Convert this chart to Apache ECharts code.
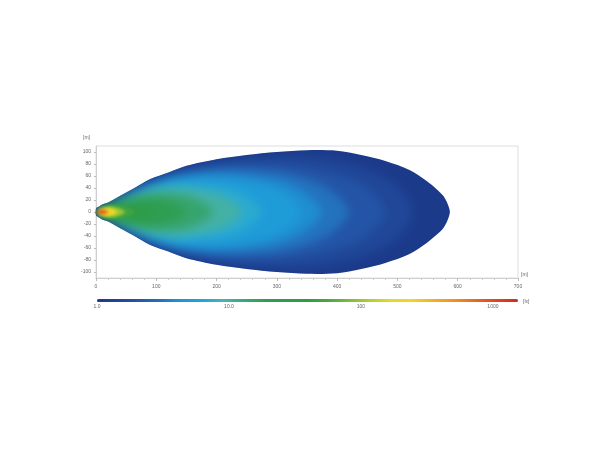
<!DOCTYPE html>
<html lang="en">
<head>
<meta charset="utf-8">
<script src="https://cdn.jsdelivr.net/npm/echarts@6/dist/echarts.min.js"></script>
<style>
  html, body { margin: 0; padding: 0; background: #fff; }
  .layer { position: absolute; left: 0; top: 0; width: 610px; height: 450px; }
  #field { filter: blur(5px); pointer-events: none; }
  #core { filter: blur(1.5px); pointer-events: none; }
</style>
</head>
<body>
<div id="chart" class="layer"></div>
<div id="field" class="layer"></div>
<div id="core" class="layer"></div>
<script>
// isolux lines: [distance m, half width m], upper half only (beam is symmetric)
const lux_levels = [1, 1.5, 2, 3, 4, 5, 7, 10, 15, 20, 30, 50, 100, 200, 500, 1000];
const iso_1    = [[0,6],[5,9],[10,12.5],[20,15.8],[40,27],[60,38],[90,55],[120,66],[150,77],[200,88],[250,95],[300,100],[350,103],[400,102],[440,95],[480,85],[520,70],[548,52],[565,38],[576,27],[583,14],[587,0]];
const iso_1_5  = [[0.5,6],[10,12.3],[20,15.4],[40,26.5],[60,37.5],[90,53],[120,64],[150,73],[200,84],[250,90],[300,93],[350,93],[400,86],[450,72],[490,52],[515,28],[525,0]];
const iso_2    = [[1,6],[10,12.1],[20,15.2],[40,26],[60,37],[90,51],[120,62],[150,70],[200,78],[250,81],[300,80],[350,74],[400,62],[450,40],[480,0]];
const iso_3    = [[1,5.8],[10,12],[20,15],[40,25.5],[60,36],[90,49],[120,59],[150,65],[200,71],[250,71],[300,67],[350,55],[390,36],[420,0]];
const iso_4    = [[1.5,5.6],[10,11.8],[20,14.9],[40,25],[60,34],[90,47],[120,56],[150,61],[200,64],[250,61],[300,52],[340,36],[375,0]];
const iso_5    = [[2,5.4],[10,11.6],[20,14.8],[40,24],[60,33],[90,45],[120,53],[150,57],[200,57],[250,51],[290,41],[320,26],[340,0]];
const iso_7    = [[2,5.2],[10,11.3],[20,14.6],[40,23],[60,31],[90,41],[120,47],[150,48],[200,43],[240,33],[275,0]];
const iso_10   = [[2.5,5],[10,11],[20,14.3],[40,21],[60,29],[90,37],[120,40],[150,39],[200,30],[225,18],[242,0]];
const iso_15   = [[3,4.8],[10,10.5],[20,13.8],[40,19],[60,25],[90,30],[120,31],[150,27],[175,17],[195,0]];
const iso_20   = [[3,4.5],[10,10],[20,13],[40,17],[60,21],[90,23],[120,19],[150,0]];
const iso_30   = [[3,4.2],[10,9],[20,12],[40,14],[60,14],[80,10],[105,0]];
const iso_50   = [[3,4],[10,8],[20,10.5],[35,11],[50,8],[65,0]];
const iso_100  = [[3,3.6],[10,7],[20,9],[30,8.5],[40,5.5],[48,0]];
const iso_200  = [[3,3],[10,5.5],[20,7],[28,5],[35,0]];
const iso_500  = [[3,2],[8,3.6],[15,3.6],[22,0]];
const iso_1000 = [[3,1.3],[8,2.6],[14,2.2],[18,0]];
const contours = [iso_1, iso_1_5, iso_2, iso_3, iso_4, iso_5, iso_7, iso_10, iso_15, iso_20, iso_30, iso_50, iso_100, iso_200, iso_500, iso_1000];

const yTicks = [-100, -80, -60, -40, -20, 0, 20, 40, 60, 80, 100];
const colorbarLabels = ['1.0', '10.0', '100', '1000'];
const colorbarMax = 3.19;   // log10 of top of scale
const palette = ['#1c3a8a', '#1f4596', '#2456a8', '#2372be', '#1e96d6', '#1ea6dc', '#48b4b4', '#3aa87c', '#2e9e55',
                 '#2e9c4a', '#2f9c44', '#4aa840', '#80bc3a', '#b4d030', '#e0dc28', '#f4d420', '#f4b020', '#f09020',
                 '#e86820', '#e04420', '#d42a20'];

const labelStyle = { fontSize: 5, color: '#666', fontFamily: 'Liberation Sans' };
const plotGrid = { left: 96, right: 92, top: 146, bottom: 172 };

function fieldSeries(from, to) {
  let idx = [];
  for (let i = from; i <= to; i++) idx.push(i);
  return {
    type: 'custom',
    xAxisIndex: 0, yAxisIndex: 0,
    data: idx.map(i => [i, Math.log10(lux_levels[i])]),
    renderItem: function (params, api) {
      let pts = contours[api.value(0)];
      let top = pts.map(p => api.coord([p[0], p[1]]));
      let bottom = pts.filter(p => p[1] > 0).reverse().map(p => api.coord([p[0], -p[1]]));
      return {
        type: 'polygon',
        shape: { points: top.concat(bottom), smooth: 0.3 },
        style: { fill: api.visual('color') }
      };
    }
  };
}

function colorMap(show) {
  return {
    type: 'continuous', show: show, seriesIndex: 0, dimension: 1,
    min: 0, max: colorbarMax,
    orient: 'horizontal', left: 97, top: 299, padding: 0,
    itemWidth: 3, itemHeight: 421,
    calculable: false, hoverLink: false,
    inRange: { color: palette }
  };
}

// overlay layers only carry the inner isolux areas, softened by css blur
function overlayOption(from, to) {
  return {
    animation: false,
    grid: plotGrid,
    xAxis: { type: 'value', min: 0, max: 700, show: false },
    yAxis: { type: 'value', min: -110, max: 110, show: false },
    visualMap: colorMap(false),
    series: [fieldSeries(from, to)]
  };
}

let chart = echarts.init(document.getElementById('chart'));
chart.setOption({
  animation: false,
  grid: [
    Object.assign({ show: true, borderColor: '#dedede', borderWidth: 1 }, plotGrid),
    { left: 97, width: 421, top: 299, height: 3 }
  ],
  xAxis: [
    {
      type: 'value', min: 0, max: 700, interval: 100,
      name: '[m]', nameLocation: 'end', nameGap: 3,
      nameTextStyle: Object.assign({ align: 'left', verticalAlign: 'bottom', padding: [0, 0, 1, 0] }, labelStyle),
      axisLine: { onZero: false, lineStyle: { color: '#cfcfcf' } },
      axisTick: { length: 3, lineStyle: { color: '#bbb' } },
      minorTick: { show: true, splitNumber: 5, length: 2, lineStyle: { color: '#ccc' } },
      splitLine: { show: false },
      axisLabel: Object.assign({ margin: 6 }, labelStyle)
    },
    {
      gridIndex: 1, type: 'value', min: 0, max: colorbarMax, interval: 1,
      name: '[lx]', nameLocation: 'end', nameGap: 5,
      nameTextStyle: Object.assign({ verticalAlign: 'middle', padding: [0, 0, 3, 0] }, labelStyle),
      axisLine: { show: false }, axisTick: { show: false }, splitLine: { show: false },
      axisLabel: Object.assign({
        margin: 2, showMaxLabel: false,
        formatter: v => colorbarLabels[Math.round(v)] || ''
      }, labelStyle)
    }
  ],
  yAxis: [
    {
      type: 'value', min: -110, max: 110,
      name: '[m]', nameLocation: 'end', nameGap: 6,
      nameTextStyle: Object.assign({ align: 'right', padding: [0, 6, 0, 0] }, labelStyle),
      axisLine: { show: true, onZero: false, lineStyle: { color: '#cfcfcf' } },
      axisTick: { show: true, length: 2, customValues: yTicks, lineStyle: { color: '#bbb' } },
      splitLine: { show: false },
      axisLabel: Object.assign({ margin: 5, customValues: yTicks }, labelStyle)
    },
    { gridIndex: 1, type: 'value', min: 0, max: 1, show: false }
  ],
  visualMap: colorMap(true),
  series: [fieldSeries(0, 0)]
});

echarts.init(document.getElementById('field')).setOption(overlayOption(1, 10));
echarts.init(document.getElementById('core')).setOption(overlayOption(11, 15));

// keep the blurred layers inside the outer 1 lx line
let outline = iso_1.map(p => [p[0], p[1]])
  .concat(iso_1.filter(p => p[1] > 0).reverse().map(p => [p[0], -p[1]]))
  .map(p => chart.convertToPixel({ gridIndex: 0 }, p));
let clip = 'polygon(' + outline.map(p => p[0].toFixed(1) + 'px ' + p[1].toFixed(1) + 'px').join(', ') + ')';
document.getElementById('field').style.clipPath = clip;
document.getElementById('core').style.clipPath = clip;
</script>
</body>
</html>
